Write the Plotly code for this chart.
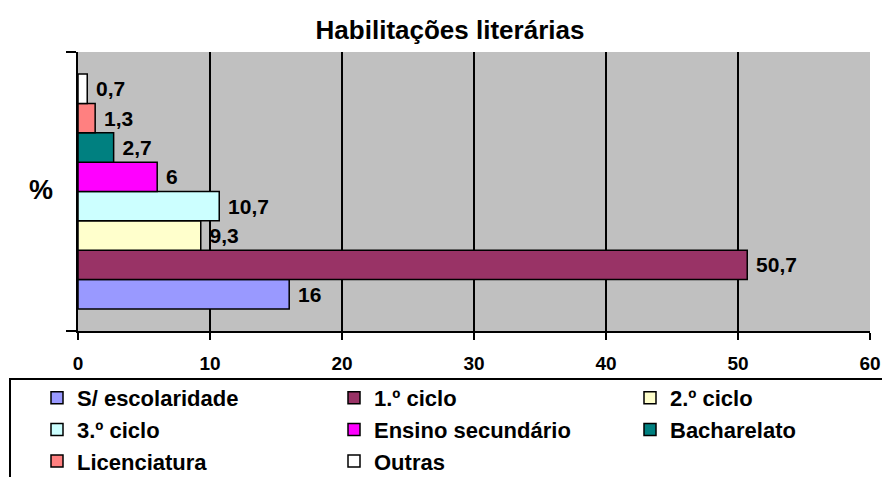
import plotly.graph_objects as go

categories = ["S/ escolaridade", "1.º ciclo", "2.º ciclo", "3.º ciclo",
              "Ensino secundário", "Bacharelato", "Licenciatura", "Outras"]
values = [16, 50.7, 9.3, 10.7, 6, 2.7, 1.3, 0.7]
colors = ["#9999FF", "#993366", "#FFFFCC", "#CCFFFF",
          "#FF00FF", "#008080", "#FF8080", "#FFFFFF"]
legend_column = ["legend", "legend2", "legend3", "legend",
                 "legend2", "legend3", "legend", "legend2"]
x_ticks = [0, 10, 20, 30, 40, 50, 60]

FONT = "Liberation Sans, Arial, sans-serif"
OFF = 8                      # default page body margin
W, H = 890 - OFF, 477 - OFF
# plot area in page pixels: x 78..870, y 52..331
L, T = 78 - OFF, 52 - OFF
R = W - (870 - OFF)
B = H - (331 - OFF)
PW, PH = W - L - R, H - T - B


def px(x):          # page pixel -> paper fraction
    return (x - OFF - L) / PW


def py(y):
    return (H - B - (y - OFF)) / PH


fig = go.Figure()
for name, v, c, lg in zip(categories, values, colors, legend_column):
    fig.add_trace(go.Bar(
        name=f"<b>{name}</b>", x=[v], y=[0], orientation="h",
        marker=dict(color=c, line=dict(color="black", width=1.5)),
        text=["\u00a0" + f"{v:g}".replace(".", ",")], textposition="outside",
        textfont=dict(family=FONT, size=21, color="black"),
        texttemplate="<b>%{text}</b>",
        cliponaxis=False, legend=lg, legendgroup=name,
    ))

leg_common = dict(orientation="v", yanchor="top", xanchor="left",
                  bgcolor="rgba(0,0,0,0)", borderwidth=0, tracegroupgap=2,
                  font=dict(family=FONT, size=22, color="black"),
                  traceorder="normal")
legend_top = 377

fig.update_layout(
    width=W, height=H,
    paper_bgcolor="white", plot_bgcolor="#C0C0C0",
    barmode="group", bargap=0.158, bargroupgap=0,
    margin=dict(l=L, r=R, t=T, b=B, autoexpand=False),
    font=dict(family=FONT, color="black"),
    title=dict(text="<b>Habilitações literárias</b>", xref="container",
               x=(450 - OFF) / W, xanchor="center", yref="container",
               y=1 - (30 - OFF) / H, yanchor="middle",
               font=dict(family=FONT, size=26, color="black")),
    showlegend=True,
    legend=dict(x=px(37), y=py(legend_top), **leg_common),
    legend2=dict(x=px(334), y=py(legend_top), **leg_common),
    legend3=dict(x=px(630), y=py(legend_top), **leg_common),
    annotations=[dict(text="<b>%</b>", xref="paper", yref="paper",
                      x=px(41), y=py(190),
                      showarrow=False, xanchor="center", yanchor="middle",
                      font=dict(family=FONT, size=27, color="black"))],
    shapes=[dict(type="rect", xref="paper", yref="paper",
                 x0=px(10), x1=px(905), y0=py(379), y1=py(495),
                 line=dict(color="black", width=2), fillcolor="rgba(0,0,0,0)")],
)
fig.update_xaxes(range=[0, 60], tickvals=x_ticks,
                 ticktext=[f"<b>{t}</b>" for t in x_ticks],
                 showgrid=True, gridcolor="black", gridwidth=1.5,
                 showline=True, linecolor="black", linewidth=2,
                 zeroline=False, ticks="outside", ticklen=7, tickwidth=2,
                 tickcolor="black", ticklabelstandoff=7,
                 tickfont=dict(family=FONT, size=19, color="black"))
fig.update_yaxes(range=[-0.5, 0.5], tickvals=[-0.5, 0.5], showticklabels=False,
                 showgrid=False, zeroline=False,
                 showline=True, linecolor="black", linewidth=2,
                 ticks="outside", ticklen=10, tickwidth=2, tickcolor="black")

fig.write_html("out.html")
